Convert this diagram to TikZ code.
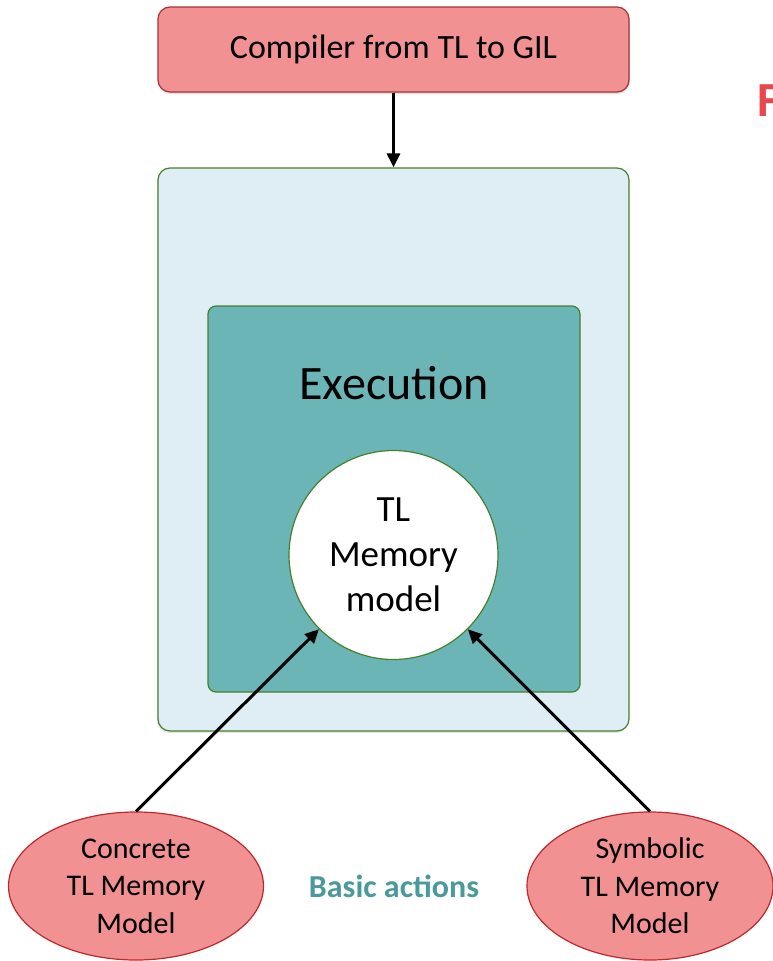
\documentclass[tikz,border=0pt]{standalone}
\usepackage{fontspec}
\setmainfont{Carlito}
\usepackage{xcolor}
\usepackage{tikz}
\usetikzlibrary{shapes.geometric, arrows.meta, positioning, shadows}
\definecolor{salmon}{HTML}{F19191}
\definecolor{darkred}{HTML}{A83232}
\definecolor{ellred}{HTML}{C0272D}
\definecolor{paleblue}{HTML}{DFEEF5}
\definecolor{leaf}{HTML}{467F2E}
\definecolor{teal}{HTML}{6BB5B7}
\definecolor{tealtext}{HTML}{4A999B}
\definecolor{accent}{HTML}{E8474D}

\begin{document}
\begin{tikzpicture}[
    x=1pt, y=-1pt,
    every node/.style={font=\fontsize{34}{40}\selectfont},
    box/.style={rectangle, draw, rounded corners=12pt, align=center, inner sep=0pt},
    compbox/.style={box, fill=salmon, draw=darkred, line width=1.2pt,
                    minimum width=471pt, minimum height=85pt,
                    drop shadow={shadow xshift=1pt, shadow yshift=-2pt, opacity=0.25}},
    outerbox/.style={box, fill=paleblue, draw=leaf, line width=1.2pt,
                     minimum width=471pt, minimum height=563pt,
                     drop shadow={shadow xshift=-1pt, shadow yshift=-2pt, opacity=0.2}},
    execbox/.style={box, fill=teal, draw=leaf, line width=1.2pt, rounded corners=8pt,
                    minimum width=372pt, minimum height=386pt},
    memcircle/.style={circle, draw=leaf, fill=white, line width=1.2pt, minimum size=209pt,
                      align=center, inner sep=0pt, font=\fontsize{37}{45}\selectfont},
    modelell/.style={ellipse, draw=ellred, fill=salmon, line width=1.2pt, align=center,
                     inner sep=0pt, font=\fontsize{30}{37.5}\selectfont},
    arr/.style={-{Triangle[length=14pt, width=13pt]}, line width=3pt},
]
    \useasboundingbox (0,0) rectangle (772,961);

    % Compiler
    \node[compbox] (compiler) at (393.5,49.5) {Compiler from TL to GIL};

    % Execution layer
    \node[outerbox] (outer) at (393.5,449.5) {};
    \node[execbox] (exec) at (394,499) {};
    \node[font=\fontsize{48}{56}\selectfont] (exectitle) at (394,383) {Execution};
    \node[memcircle] (mem) at (393.5,555) {TL\\Memory\\model};

    % Memory models
    \node[modelell, minimum width=255pt, minimum height=148pt] (concrete) at (136,886)
        {Concrete\\TL Memory\\Model};
    \node[modelell, minimum width=246pt, minimum height=148pt] (symbolic) at (650,886)
        {Symbolic\\TL Memory\\Model};
    \node[font=\fontsize{32}{38}\selectfont\bfseries, text=tealtext] (basic) at (394,886)
        {Basic actions};

    % cut-off heading
    \node[anchor=base west, inner sep=0pt, text=accent,
          font=\fontsize{49}{56}\selectfont\bfseries] (heading) at (757,116) {F};

    % Arrows
    \draw[arr] (compiler) -- (outer);
    \draw[arr] (concrete.north) -- (mem);
    \draw[arr] (symbolic.north) -- (mem);

\end{tikzpicture}
\end{document}
